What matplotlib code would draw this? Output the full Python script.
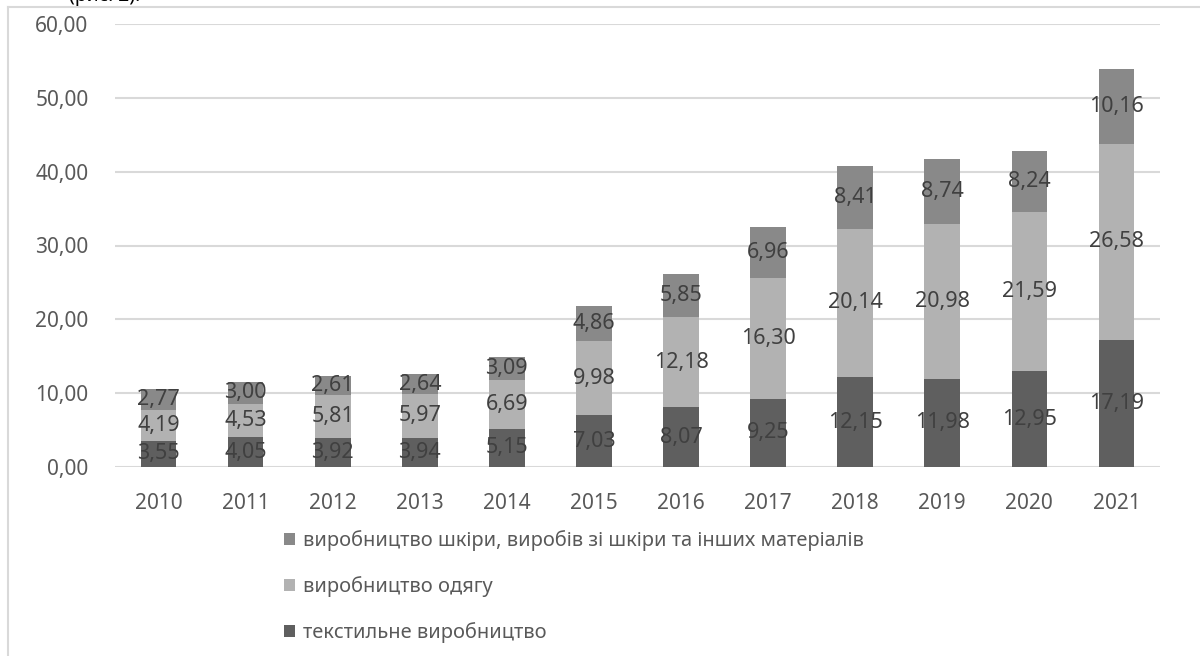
import matplotlib
matplotlib.use("Agg")
import matplotlib.pyplot as plt
from matplotlib.patches import Patch
from matplotlib.lines import Line2D

years = ["2010", "2011", "2012", "2013", "2014", "2015", "2016", "2017", "2018", "2019", "2020", "2021"]
textile = [3.55, 4.05, 3.92, 3.94, 5.15, 7.03, 8.07, 9.25, 12.15, 11.98, 12.95, 17.19]
clothing = [4.19, 4.53, 5.81, 5.97, 6.69, 9.98, 12.18, 16.30, 20.14, 20.98, 21.59, 26.58]
leather = [2.77, 3.00, 2.61, 2.64, 3.09, 4.86, 5.85, 6.96, 8.41, 8.74, 8.24, 10.16]
yticks = [0, 10, 20, 30, 40, 50, 60]
names = ["текстильне виробництво", "виробництво одягу",
         "виробництво шкіри, виробів зі шкіри та інших матеріалів"]

plt.rcParams['font.family'] = ['Noto Sans', 'DejaVu Sans']

c_text = "#5f5f5f"
c_cloth = "#b2b2b2"
c_leath = "#898989"

fig = plt.figure(figsize=(12, 6.56), dpi=100)
ax = fig.add_axes([115/1200, 1-467/656, (1160-115)/1200, (467-24)/656])

x = list(range(len(years)))
w = 0.41
ax.bar(x, textile, w, color=c_text, zorder=3)
ax.bar(x, clothing, w, bottom=textile, color=c_cloth, zorder=3)
bot3 = [a + b for a, b in zip(textile, clothing)]
ax.bar(x, leather, w, bottom=bot3, color=c_leath, zorder=3)

def fmt(v):
    return f"{v:.2f}".replace(".", ",")

lab_kw = dict(ha='center', va='center', fontsize=15.5, color="#404040", zorder=4)
for xi, t, c, l in zip(x, textile, clothing, leather):
    ax.text(xi, t/2, fmt(t), **lab_kw)
    ax.text(xi, t + c/2, fmt(c), **lab_kw)
    ax.text(xi, t + c + l/2, fmt(l), **lab_kw)

ax.set_xlim(-0.5, len(years) - 0.5)
ax.set_ylim(0, 60)
ax.set_yticks(yticks)
ax.set_yticklabels([fmt(v) for v in yticks])
ax.set_xticks(x)
ax.set_xticklabels(years)
ax.tick_params(axis='y', length=0, pad=19, labelsize=15, labelcolor="#595959")
ax.tick_params(axis='x', length=0, pad=19, labelsize=15, labelcolor="#595959")
ax.grid(axis='y', color="#d9d9d9", lw=1.5, zorder=0)
for s in ax.spines.values():
    s.set_visible(False)

handles = [Patch(facecolor=c_leath), Patch(facecolor=c_cloth), Patch(facecolor=c_text)]
fig.legend(handles, [names[2], names[1], names[0]], loc='upper left',
           bbox_to_anchor=(284/1200, 1-530/656), frameon=False, fontsize=14.4,
           labelcolor="#595959", handlelength=0.55, handleheight=0.55,
           handletextpad=0.4, labelspacing=1.25, borderpad=0, borderaxespad=0)

# chart frame (partially visible)
fig.add_artist(Line2D([8/1200, 8/1200], [0, 1-7/656], color="#d9d9d9", lw=1.5, transform=fig.transFigure))
fig.add_artist(Line2D([8/1200, 1], [1-7/656, 1-7/656], color="#d9d9d9", lw=1.5, transform=fig.transFigure))
fig.text(140/1200, 1+4/656, "(рис. 2).", ha='right', va='center', fontsize=14, color="black")

fig.savefig("out.png", dpi=100)
